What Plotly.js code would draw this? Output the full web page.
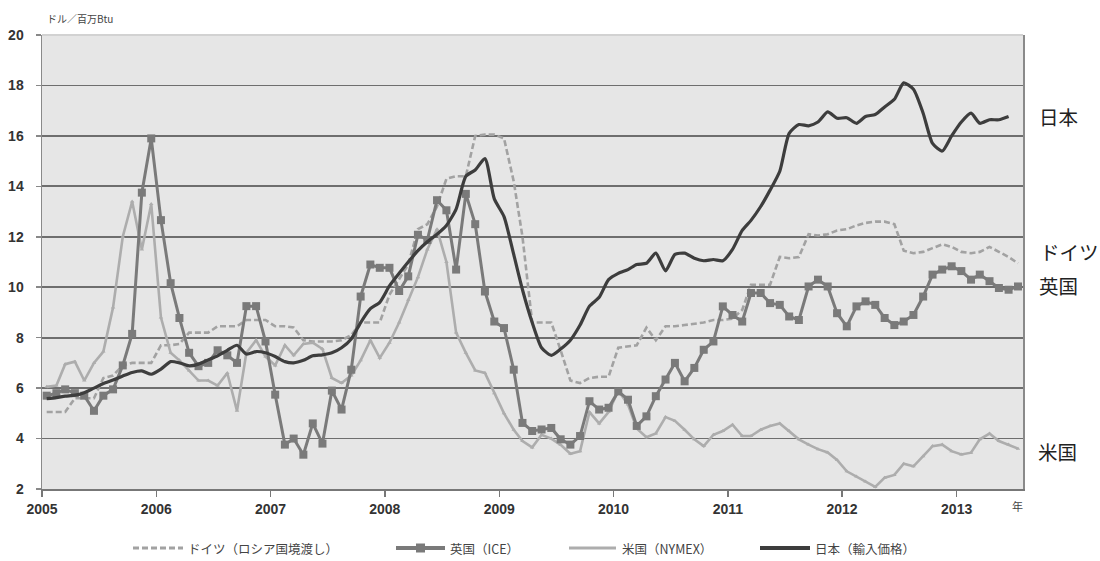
<!DOCTYPE html>
<html>
<head>
<meta charset="utf-8">
<script src="https://cdn.plot.ly/plotly-3.0.1.min.js"></script>
<style>
html,body{margin:0;padding:0;background:#ffffff;}
#chart{width:1100px;height:561px;}
</style>
</head>
<body>
<div id="chart"></div>
<script>
// ---- data (monthly, Jan 2005 onward), US$ per million Btu ----
const yearLabels = ['2005','2006','2007','2008','2009','2010','2011','2012','2013'];

const germany = [5.05,5.05,5.05,5.6,5.6,5.6,6.4,6.5,6.9,7.0,7.0,7.0,
  7.7,7.7,7.75,8.2,8.2,8.2,8.45,8.45,8.45,8.7,8.7,8.7,
  8.45,8.45,8.4,7.9,7.85,7.85,7.85,7.9,8.1,8.6,8.6,8.6,
  9.7,10.3,10.9,12.3,12.5,13.2,14.3,14.4,14.4,16.0,16.05,16.05,
  15.9,14.2,12.0,8.6,8.6,8.6,7.5,6.3,6.2,6.4,6.45,6.45,
  7.6,7.65,7.7,8.4,7.9,8.45,8.45,8.5,8.55,8.6,8.7,8.7,
  8.75,9.1,10.1,10.1,10.1,11.2,11.15,11.2,12.1,12.05,12.1,12.25,
  12.3,12.45,12.55,12.6,12.6,12.5,11.45,11.35,11.4,11.55,11.7,11.6,
  11.4,11.35,11.4,11.6,11.4,11.2,10.95];

const uk = [5.7,5.8,5.95,5.8,5.7,5.1,5.7,5.95,6.9,8.15,13.75,15.9,
  12.66,10.16,8.78,7.4,6.87,7.0,7.5,7.3,7.0,9.25,9.25,7.85,
  5.74,3.76,4.0,3.36,4.6,3.8,5.9,5.15,6.73,9.63,10.9,10.77,
  10.77,9.85,10.43,12.08,11.87,13.45,13.05,10.7,13.7,12.5,9.83,8.64,
  8.38,6.73,4.62,4.3,4.36,4.42,3.97,3.76,4.1,5.48,5.15,5.22,
  5.87,5.54,4.5,4.88,5.68,6.34,7.0,6.27,6.8,7.52,7.85,9.24,
  8.9,8.64,9.77,9.77,9.37,9.3,8.84,8.7,10.03,10.3,10.03,8.97,
  8.45,9.24,9.44,9.3,8.78,8.5,8.64,8.9,9.63,10.5,10.7,10.83,
  10.64,10.3,10.5,10.24,9.97,9.9,10.03];

const us = [6.05,6.1,6.95,7.05,6.3,7.0,7.45,9.2,12.0,13.4,11.5,13.3,
  8.8,7.4,7.1,6.7,6.3,6.3,6.1,6.6,5.1,7.4,7.9,7.25,
  6.9,7.7,7.3,7.75,7.8,7.55,6.4,6.2,6.5,7.1,7.9,7.2,
  7.8,8.6,9.5,10.4,11.5,12.3,11.0,8.2,7.4,6.7,6.6,5.8,
  5.0,4.35,3.9,3.65,4.15,4.0,3.75,3.4,3.5,5.05,4.6,5.05,
  5.9,5.35,4.4,4.05,4.2,4.85,4.7,4.35,3.97,3.7,4.15,4.3,
  4.55,4.1,4.1,4.35,4.5,4.6,4.3,3.97,3.76,3.58,3.45,3.15,
  2.7,2.5,2.3,2.08,2.45,2.56,3.0,2.9,3.3,3.7,3.76,3.5,
  3.37,3.44,3.97,4.2,3.9,3.76,3.6];

const japan = [5.58,5.62,5.68,5.72,5.82,6.0,6.18,6.32,6.48,6.62,6.68,6.55,
  6.75,7.05,7.0,6.88,6.95,7.12,7.28,7.5,7.7,7.35,7.45,7.4,
  7.25,7.05,7.0,7.1,7.28,7.32,7.4,7.6,7.95,8.6,9.15,9.4,
  10.05,10.55,11.0,11.45,11.8,12.1,12.45,13.1,14.4,14.65,15.1,13.5,
  12.8,11.3,9.9,8.6,7.6,7.3,7.55,7.9,8.5,9.25,9.6,10.3,
  10.55,10.7,10.9,10.95,11.35,10.65,11.3,11.35,11.15,11.05,11.1,11.05,
  11.5,12.25,12.65,13.2,13.85,14.6,16.1,16.45,16.4,16.55,16.95,16.7,
  16.72,16.5,16.77,16.85,17.15,17.45,18.1,17.85,16.9,15.7,15.4,16.0,
  16.55,16.9,16.5,16.64,16.64,16.77];

const seriesNames = ['ドイツ（ロシア国境渡し）','英国（ICE）','米国（NYMEX）','日本（輸入価格）'];
const endLabels = ['日本','ドイツ','英国','米国'];
const yTicks = [2,4,6,8,10,12,14,16,18,20];

// month categories (mid-month dates)
const months = [];
for (let i = 0; i < 103; i++) {
  const y = 2005 + Math.floor(i / 12), m = (i % 12) + 1;
  months.push(y + '-' + String(m).padStart(2, '0') + '-16');
}
const yearTickVals = yearLabels.map(y => y + '-01-01');

// ---- styles ----
const C_GER = '#a2a2a2', C_UK = '#7a7a7a', C_US = '#adadad', C_JP = '#3d3d3d';
const traces = [
  {x: months.slice(0, germany.length), y: germany, type: 'scatter', mode: 'lines', name: seriesNames[0],
   line: {color: C_GER, width: 2.6, dash: '6px,3px'}},
  {x: months.slice(0, us.length), y: us, type: 'scatter', mode: 'lines+markers', name: seriesNames[2],
   line: {color: C_US, width: 2.6}, marker: {symbol: 'triangle-up', size: 4, color: C_US}},
  {x: months.slice(0, uk.length), y: uk, type: 'scatter', mode: 'lines+markers', name: seriesNames[1],
   line: {color: C_UK, width: 3}, marker: {symbol: 'square', size: 8, color: C_UK}},
  {x: months.slice(0, japan.length), y: japan, type: 'scatter', mode: 'lines', name: seriesNames[3],
   line: {color: C_JP, width: 3.2, shape: 'spline', smoothing: 0.6}}
];

// pixel -> paper helpers for layout furniture
const L = 42, R = 1023, T = 35, B = 489;
const px = v => (v - L) / (R - L);
const py = v => (B - v) / (B - T);

const FONT_CJK = '"Noto Sans CJK JP", "Noto Sans", sans-serif';
const FONT_NUM = '"Liberation Sans", Arial, sans-serif';

const shapes = [
  // light top border
  {type: 'line', xref: 'paper', yref: 'paper', x0: 0, x1: 1, y0: 1, y1: 1, line: {color: '#d2d2d2', width: 2}, layer: 'above'},
  // legend symbols
  {type: 'line', xref: 'paper', yref: 'paper', x0: px(133), x1: px(183), y0: py(548), y1: py(548), line: {color: C_GER, width: 3, dash: '6px,3px'}},
  {type: 'line', xref: 'paper', yref: 'paper', x0: px(396), x1: px(445), y0: py(548), y1: py(548), line: {color: C_UK, width: 4}},
  {type: 'rect', xref: 'paper', yref: 'paper', x0: px(416), x1: px(425), y0: py(552.5), y1: py(543.5), line: {width: 0}, fillcolor: C_UK},
  {type: 'line', xref: 'paper', yref: 'paper', x0: px(569), x1: px(616), y0: py(548), y1: py(548), line: {color: C_US, width: 3}},
  {type: 'line', xref: 'paper', yref: 'paper', x0: px(760), x1: px(810), y0: py(548), y1: py(548), line: {color: C_JP, width: 4}}
];

const ann = (text, x, y, size, color, anchor) => ({
  text: text, xref: 'paper', yref: 'paper', x: px(x), y: py(y), xanchor: anchor || 'left', yanchor: 'middle',
  showarrow: false, font: {family: FONT_CJK, size: size, color: color || '#333'}
});

const annotations = [
  ann('ドル／百万Btu', 45, 18, 10, '#444'),
  ann(seriesNames[0], 186, 548, 12.5, '#444'),
  ann(seriesNames[1], 448, 548, 12.5, '#444'),
  ann(seriesNames[2], 620, 548, 12.5, '#444'),
  ann(seriesNames[3], 813, 548, 12.5, '#444'),
  ann('年', 1017, 506, 11, '#444', 'center'),
  ann(endLabels[0], 1037, 117, 19.5, '#222'),
  ann(endLabels[1], 1038, 251, 19.5, '#222'),
  ann(endLabels[2], 1037, 285, 19.5, '#222'),
  ann(endLabels[3], 1036, 451, 19.5, '#222')
];

const layout = {
  width: 1100, height: 561,
  margin: {l: L, r: 1100 - R, t: T, b: 561 - B, pad: 0},
  paper_bgcolor: '#ffffff', plot_bgcolor: '#e6e6e6',
  showlegend: false,
  xaxis: {
    type: 'date', range: ['2005-01-01', '2013-08-01'],
    tickmode: 'array', tickvals: yearTickVals, ticktext: yearLabels,
    ticks: 'outside', ticklen: 6, tickwidth: 1.5, tickcolor: '#777',
    showline: true, linecolor: '#777', linewidth: 2, showgrid: false, zeroline: false,
    tickfont: {family: FONT_NUM, size: 14, color: '#333', weight: 'bold'}
  },
  yaxis: {
    range: [2, 20], tickmode: 'array', tickvals: yTicks,
    ticks: 'outside', ticklen: 5, tickwidth: 1.5, tickcolor: '#888',
    showline: true, mirror: true, linecolor: '#8a8a8a', linewidth: 1.5,
    showgrid: true, gridcolor: '#6e6e6e', gridwidth: 1.7, zeroline: false,
    ticklabelstandoff: 9,
    tickfont: {family: FONT_NUM, size: 14, color: '#333', weight: 'bold'}
  },
  shapes: shapes,
  annotations: annotations
};

Plotly.newPlot('chart', traces, layout, {displayModeBar: false, staticPlot: true});
</script>
</body>
</html>
